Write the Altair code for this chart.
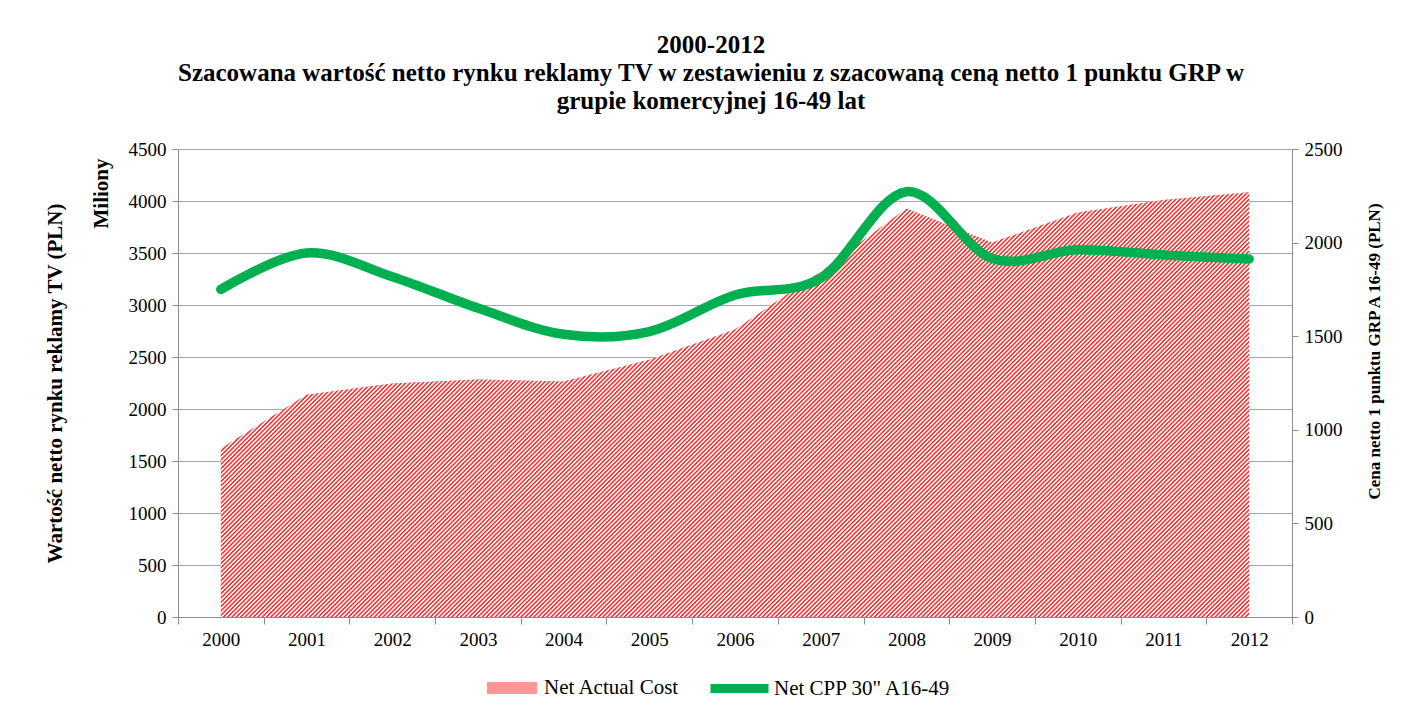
import altair as alt
import pandas as pd

# ---------------- data ----------------
years = ["2000", "2001", "2002", "2003", "2004", "2005", "2006",
         "2007", "2008", "2009", "2010", "2011", "2012"]
net_actual_cost = [1620, 2137, 2245, 2283, 2265, 2474, 2764,
                   3320, 3928, 3600, 3890, 4010, 4085]          # mln PLN (left axis)
net_cpp = [1750, 1945, 1818, 1650, 1510, 1525, 1720,
           1810, 2272, 1915, 1962, 1934, 1912]                   # PLN (right axis)
area_name = "Net Actual Cost"
line_name = 'Net CPP 30" A16-49'
title_lines = [
    "2000-2012",
    "Szacowana wartość netto rynku reklamy TV w zestawieniu z szacowaną ceną netto 1 punktu GRP w",
    "grupie komercyjnej 16-49 lat",
]
left_title = "Wartość netto rynku reklamy TV (PLN)"
left_unit = "Miliony"
right_title = "Cena netto 1 punktu GRP A 16-49 (PLN)"
left_ticks = [0, 500, 1000, 1500, 2000, 2500, 3000, 3500, 4000, 4500]
right_ticks = [0, 500, 1000, 1500, 2000, 2500]

df = pd.DataFrame({"year": years, "cost": net_actual_cost, "cpp": net_cpp})
df["s_area"] = area_name
df["s_line"] = line_name

# ---------------- style ----------------
PLOT_W, PLOT_H = 1114, 468
FONT = "Liberation Serif"
GREEN = "#00B050"
RED = "#FF3030"
AXIS_GRAY = "#8C8C8C"
GRID_GRAY = "#A6A6A6"

# diagonal hatch made from a striped linear gradient (45 degrees in pixel space)
n = len(years)
span_w = PLOT_W * (n - 1) / n
span_h = PLOT_H * max(net_actual_cost) / left_ticks[-1]
r = span_h / span_w
k = (1 + r) / (1 + r * r)
period_px = 4.3
N = int((span_w + span_h) / period_px)
stops = []
for i in range(N):
    o = i / N
    stops += [
        alt.GradientStop(color=RED, offset=o),
        alt.GradientStop(color=RED, offset=o + 0.25 / N),
        alt.GradientStop(color="#FFFFFF", offset=o + 0.5 / N),
        alt.GradientStop(color="#FFFFFF", offset=o + 0.78 / N),
    ]
hatch = alt.LinearGradient(gradient="linear", stops=stops, x1=0, y1=0, x2=k, y2=k * r)

x_enc = alt.X(
    "year:O",
    sort=years,
    scale=alt.Scale(type="band", paddingInner=0, paddingOuter=0),
    axis=alt.Axis(
        title=None, labelAngle=0, tickBand="extent", grid=False,
        domainColor=AXIS_GRAY, tickColor=AXIS_GRAY, tickSize=7,
        labelFont=FONT, labelFontSize=19, labelColor="black", labelPadding=6,
    ),
)

base = alt.Chart(df)

# layer 1: flat area, provides legend entry + main left axis
area_legend = base.mark_area(interpolate="linear").encode(
    x=x_enc,
    y=alt.Y(
        "cost:Q",
        scale=alt.Scale(domain=[0, 4500]),
        axis=alt.Axis(
            orient="left", values=left_ticks, format="d", grid=True, gridColor=GRID_GRAY,
            domainColor=AXIS_GRAY, tickColor=AXIS_GRAY, tickSize=6,
            labelFont=FONT, labelFontSize=19, labelColor="black", labelPadding=6,
            title=left_unit, titleFont=FONT, titleFontSize=21, titleFontWeight="bold",
            titleColor="black", titleAngle=270, titleX=-77, titleY=9,
            titleAlign="right", titleBaseline="middle",
        ),
    ),
    fill=alt.Fill(
        "s_area:N",
        scale=alt.Scale(domain=[area_name], range=["#FF9494"]),
        legend=alt.Legend(
            title=None, orient="none", legendX=309, legendY=514, padding=0,
            symbolType="M-1,-0.24H1V0.24H-1Z", symbolSize=2500, symbolStrokeWidth=0,
            labelFont=FONT, labelFontSize=21, labelColor="black", labelOffset=7,
            labelLimit=400,
        ),
    ),
)

# layer 2: hatched area on top, carries the outer left axis title
area_hatch = base.mark_area(interpolate="linear", fill=hatch).encode(
    x=x_enc,
    y=alt.Y(
        "cost:Q",
        scale=alt.Scale(domain=[0, 4500]),
        axis=alt.Axis(
            orient="left", labels=False, ticks=False, domain=False, grid=False,
            title=left_title, titleFont=FONT, titleFontSize=21, titleFontWeight="bold",
            titleColor="black", titleAngle=270, titleX=-123, titleY=PLOT_H / 2,
            titleAlign="center", titleBaseline="middle",
        ),
    ),
)

# layer 3: smoothed green line on right axis
line = base.mark_line(interpolate="cardinal", strokeWidth=9.5, strokeCap="round").encode(
    x=x_enc,
    y=alt.Y(
        "cpp:Q",
        scale=alt.Scale(domain=[0, 2500]),
        axis=alt.Axis(
            orient="right", values=right_ticks, format="d", grid=False,
            domainColor=AXIS_GRAY, tickColor=AXIS_GRAY, tickSize=6,
            labelFont=FONT, labelFontSize=19, labelColor="black", labelPadding=6,
            title=right_title, titleFont=FONT, titleFontSize=17, titleFontWeight="bold",
            titleColor="black", titleAngle=270, titleX=82, titleY=202,
            titleAlign="center", titleBaseline="middle",
        ),
    ),
    stroke=alt.Stroke(
        "s_line:N",
        scale=alt.Scale(domain=[line_name], range=[GREEN]),
        legend=alt.Legend(
            title=None, orient="none", legendX=528, legendY=506, padding=0,
            symbolType="stroke", symbolSize=3364, symbolStrokeWidth=9,
            labelFont=FONT, labelFontSize=21, labelColor="black", labelOffset=1,
            labelLimit=400,
        ),
    ),
)

chart = (
    alt.layer(area_legend, area_hatch, line)
    .resolve_scale(y="independent", fill="independent", stroke="independent")
    .properties(
        width=PLOT_W,
        height=PLOT_H,
        autosize=alt.AutoSizeParams(type="none"),
        padding={"left": 170, "top": 141, "right": 106, "bottom": 92},
        title=alt.TitleParams(
            text=title_lines, anchor="middle", frame="group", dx=-24, offset=26,
            font=FONT, fontSize=25, fontWeight="bold", color="black", lineHeight=28,
        ),
    )
    .configure_view(stroke=None)
    .configure(background="white")
)

chart.save("out.html", embed_options={"renderer": "svg", "actions": False})
